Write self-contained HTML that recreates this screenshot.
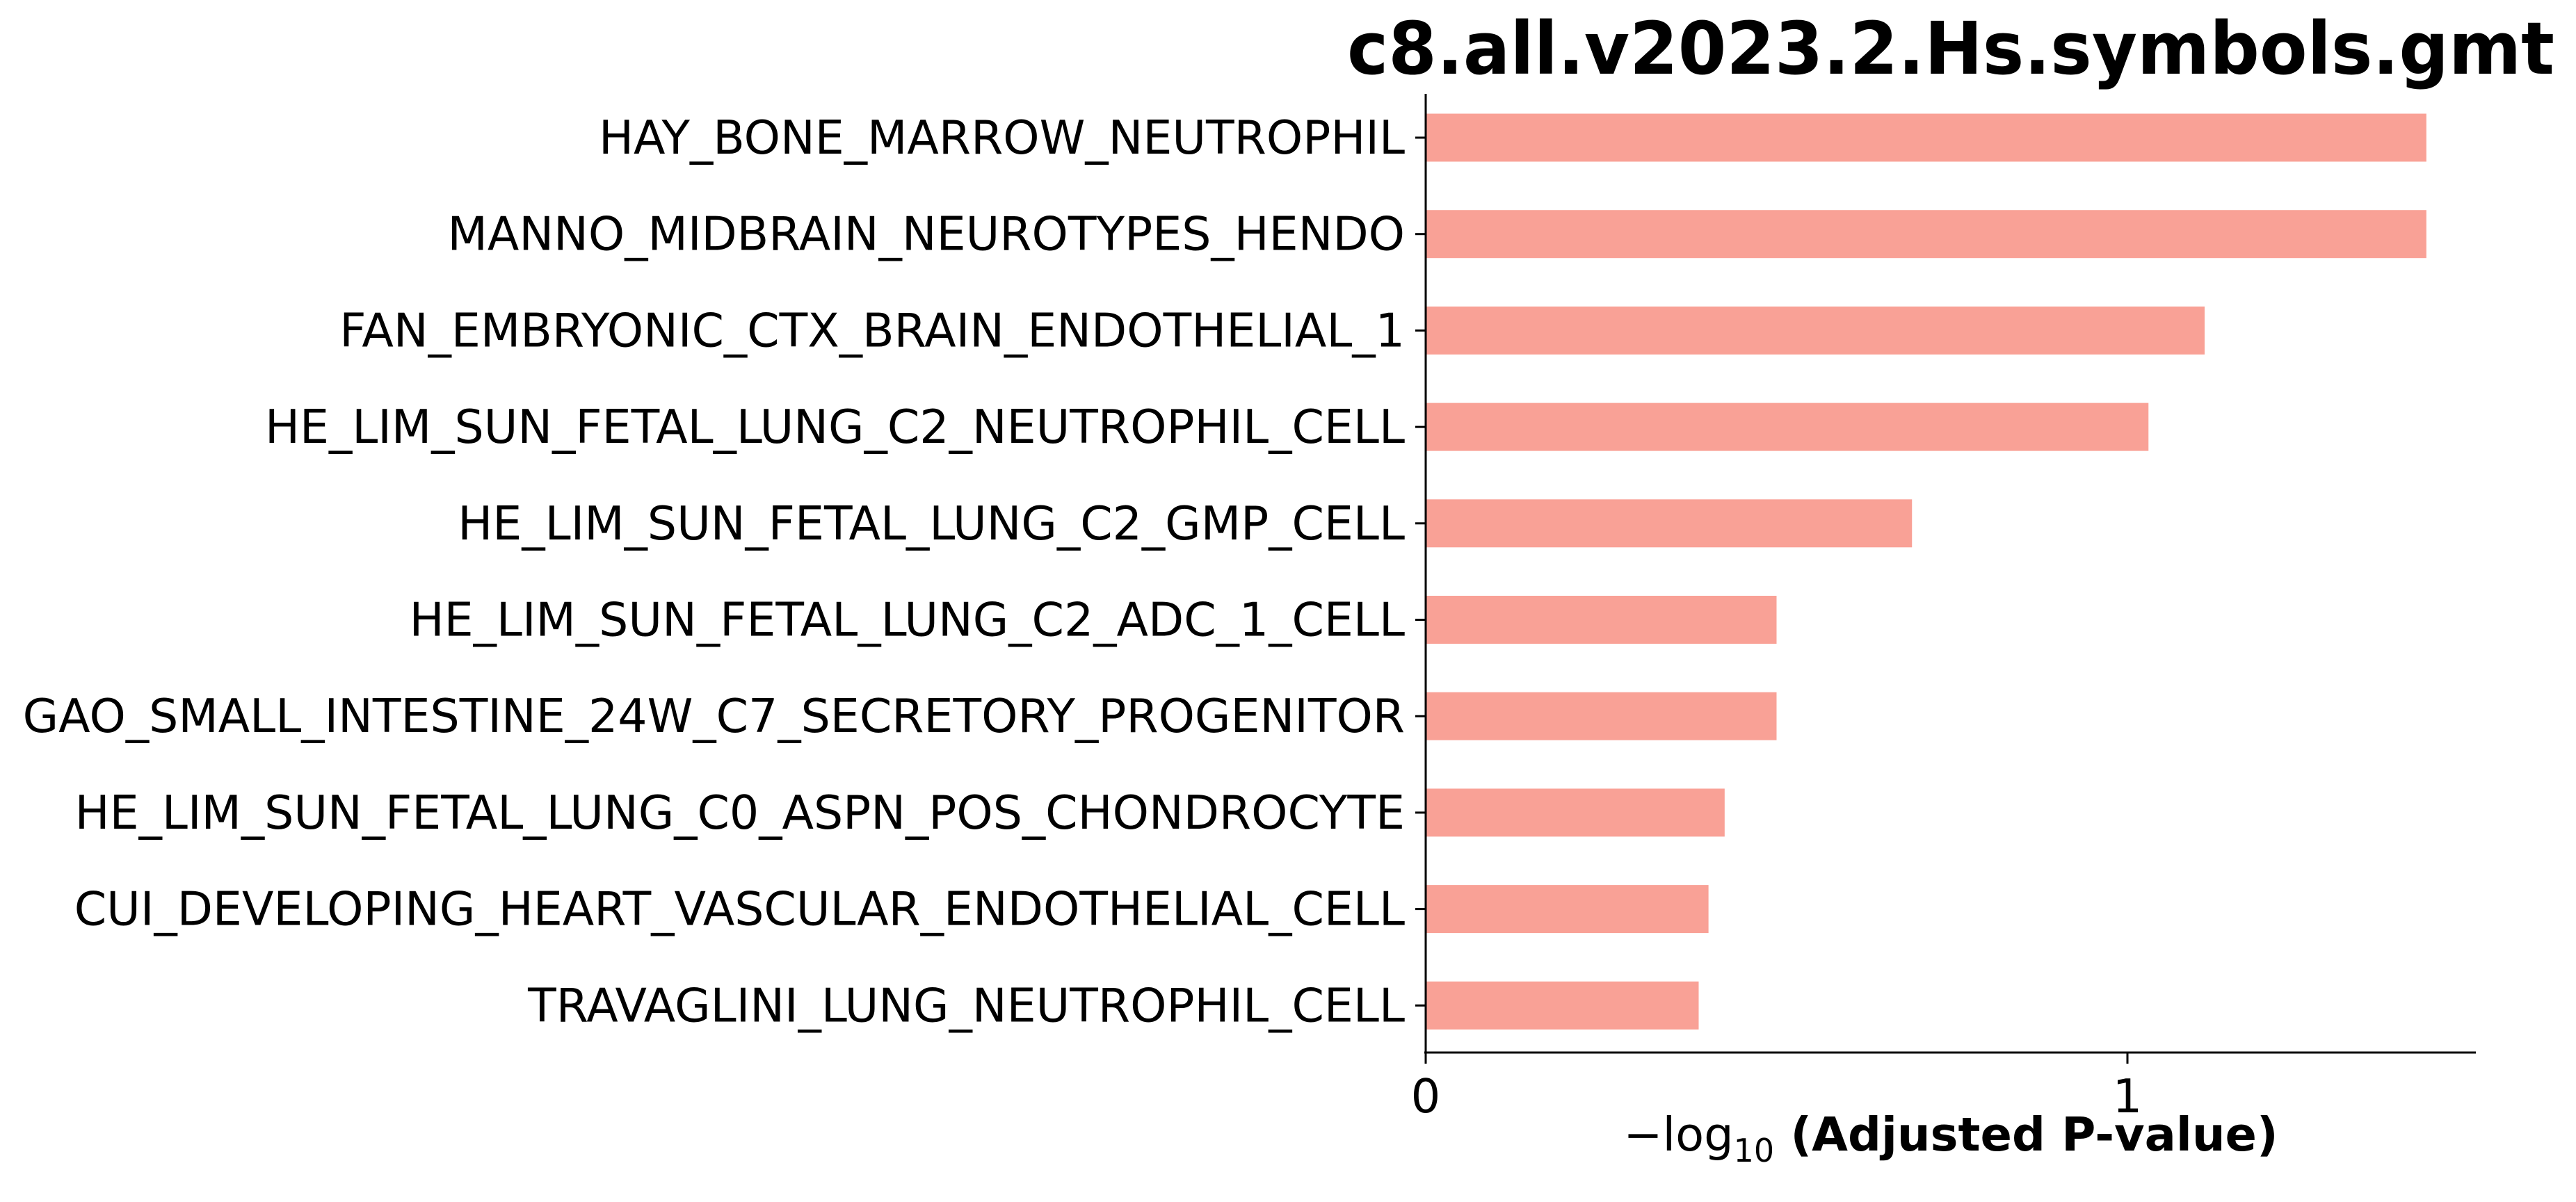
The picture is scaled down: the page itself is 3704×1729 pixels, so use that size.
<!DOCTYPE html>
<html><head><meta charset="utf-8"><style>
html,body{margin:0;padding:0;background:#fff;}
svg{display:block;font-family:"DejaVu Sans","Liberation Sans",sans-serif;}
</style></head><body>
<svg id="chart" width="3704" height="1729" viewBox="0 0 3704 1729" xmlns="http://www.w3.org/2000/svg">
<text x="2805" y="106" text-anchor="middle" font-size="104" font-weight="bold" textLength="1736" lengthAdjust="spacingAndGlyphs">c8.all.v2023.2.Hs.symbols.gmt</text>
<g id="bars"></g>
<g id="yticks"></g>
<g id="xticks"></g>
<line x1="2050" y1="135" x2="2050" y2="1516" stroke="#000" stroke-width="3"/>
<line x1="2048" y1="1514" x2="3560" y2="1514" stroke="#000" stroke-width="3"/>
<text x="2805" y="1655" text-anchor="middle" font-size="67"><tspan>−log</tspan><tspan font-size="46" dy="16">10</tspan><tspan dy="-16" font-weight="bold">  (Adjusted P-value)</tspan></text>
</svg>
<script>
const categories = ["HAY_BONE_MARROW_NEUTROPHIL","MANNO_MIDBRAIN_NEUROTYPES_HENDO","FAN_EMBRYONIC_CTX_BRAIN_ENDOTHELIAL_1","HE_LIM_SUN_FETAL_LUNG_C2_NEUTROPHIL_CELL","HE_LIM_SUN_FETAL_LUNG_C2_GMP_CELL","HE_LIM_SUN_FETAL_LUNG_C2_ADC_1_CELL","GAO_SMALL_INTESTINE_24W_C7_SECRETORY_PROGENITOR","HE_LIM_SUN_FETAL_LUNG_C0_ASPN_POS_CHONDROCYTE","CUI_DEVELOPING_HEART_VASCULAR_ENDOTHELIAL_CELL","TRAVAGLINI_LUNG_NEUTROPHIL_CELL"];
const values = [1.426,1.426,1.11,1.03,0.693,0.50,0.50,0.426,0.403,0.389];
const xTicks = [0,1];
const xTickLabels = ["0","1"];
const NS="http://www.w3.org/2000/svg";
const X0=2050, XSCALE=1009, YTOP=135, STEP=138.7, FIRST=63, BARH=69;
function xs(v){return X0+v*XSCALE;}
function ys(i){return YTOP+FIRST+i*STEP;}
const bars=document.getElementById('bars'), yt=document.getElementById('yticks'), xt=document.getElementById('xticks');
categories.forEach((c,i)=>{
  const r=document.createElementNS(NS,'rect');
  
  
  r.setAttribute('x',xs(0));r.setAttribute('y',ys(i)-BARH/2);
  r.setAttribute('width',xs(values[i])-xs(0));r.setAttribute('height',BARH);
  r.setAttribute('fill','#f9a196');
  bars.appendChild(r);
  const tk=document.createElementNS(NS,'line');
  
  
  tk.setAttribute('x1',X0-15);tk.setAttribute('x2',X0);tk.setAttribute('y1',ys(i));tk.setAttribute('y2',ys(i));
  tk.setAttribute('stroke','#000');tk.setAttribute('stroke-width','3');
  yt.appendChild(tk);
  const t=document.createElementNS(NS,'text');
  
  
  t.setAttribute('x',X0-30);t.setAttribute('y',ys(i)+23);
  t.setAttribute('text-anchor','end');t.setAttribute('font-size','66.5');
  t.textContent=c;
  yt.appendChild(t);
});
xTicks.forEach((v,i)=>{
  const tk=document.createElementNS(NS,'line');
  
  
  tk.setAttribute('x1',xs(v));tk.setAttribute('x2',xs(v));tk.setAttribute('y1',1514);tk.setAttribute('y2',1530);
  tk.setAttribute('stroke','#000');tk.setAttribute('stroke-width','3');
  xt.appendChild(tk);
  const t=document.createElementNS(NS,'text');
  
  
  t.setAttribute('x',xs(v));t.setAttribute('y',1600);
  t.setAttribute('text-anchor','middle');t.setAttribute('font-size','67');
  t.textContent=xTickLabels[i];
  xt.appendChild(t);
});
</script>
</body></html>
